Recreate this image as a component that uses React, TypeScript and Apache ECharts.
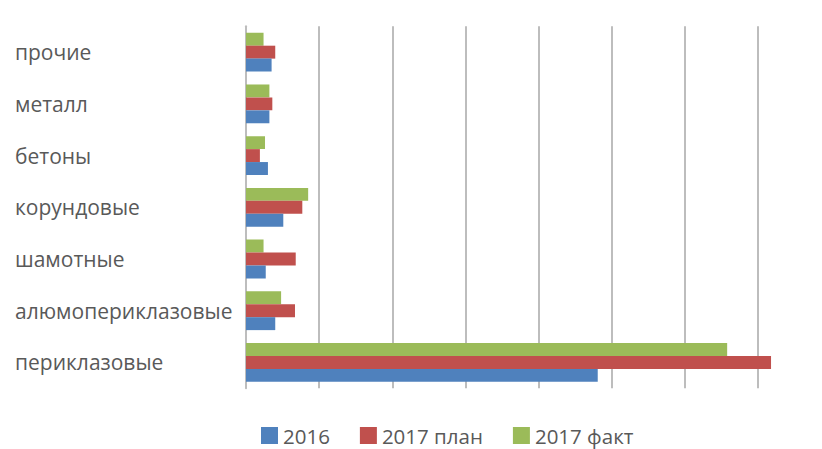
import React, { useEffect, useRef } from "react";
import * as echarts from "echarts";

const categories = [
  "периклазовые",
  "алюмопериклазовые",
  "шамотные",
  "корундовые",
  "бетоны",
  "металл",
  "прочие",
];
const seriesNames = ["2016", "2017 план", "2017 факт"];
const values2016 = [48.1, 4.0, 2.7, 5.1, 3.0, 3.2, 3.5];
const values2017Plan = [71.8, 6.7, 6.8, 7.7, 1.9, 3.6, 4.0];
const values2017Fact = [65.8, 4.8, 2.4, 8.5, 2.6, 3.2, 2.4];
const colors = ["#4f81bd", "#c0504d", "#9bbb59"];

export default function App() {
  const ref = useRef<HTMLDivElement>(null);
  useEffect(() => {
    if (!ref.current) return;
    const chart = echarts.init(ref.current, null, { renderer: "svg" });
    const data = [values2016, values2017Plan, values2017Fact];
    // ECharts stacks horizontal bars top-down by series order, so add them reversed
    const order = [2, 1, 0];
    chart.setOption({
      animation: false,
      color: colors,
      textStyle: { fontFamily: "Open Sans" },
      grid: { left: 246, top: 26.3, height: 362, width: 585 },
      legend: {
        left: 256,
        top: 420,
        itemWidth: 17,
        itemHeight: 17,
        itemGap: 30,
        icon: "rect",
        textStyle: {
          fontSize: 20.5,
          color: "#595959",
          fontFamily: "Open Sans",
        },
        data: seriesNames,
      },
      xAxis: {
        type: "value",
        min: 0,
        max: 80,
        interval: 10,
        axisLabel: { show: false },
        axisLine: { show: false },
        axisTick: { show: false },
        splitLine: { show: true, lineStyle: { color: "#bdbdbd", width: 2 } },
      },
      yAxis: {
        type: "category",
        data: categories,
        axisLine: { show: true, lineStyle: { color: "#bdbdbd", width: 2 } },
        axisTick: { show: false },
        axisLabel: {
          align: "left",
          margin: 231,
          fontSize: 21,
          color: "#595959",
          fontFamily: "Open Sans",
        },
      },
      series: order.map((i) => ({
        name: seriesNames[i],
        type: "bar",
        data: data[i],
        barGap: "0%",
        barCategoryGap: "25%",
        itemStyle: { color: colors[i] },
      })),
    });
    return () => chart.dispose();
  }, []);
  return (
    <div
      style={{
        position: "absolute",
        left: 0,
        top: 0,
        width: 822,
        height: 449,
        overflow: "hidden",
        background: "#fff",
      }}
    >
      <div ref={ref} style={{ width: 850, height: 449 }} />
    </div>
  );
}
